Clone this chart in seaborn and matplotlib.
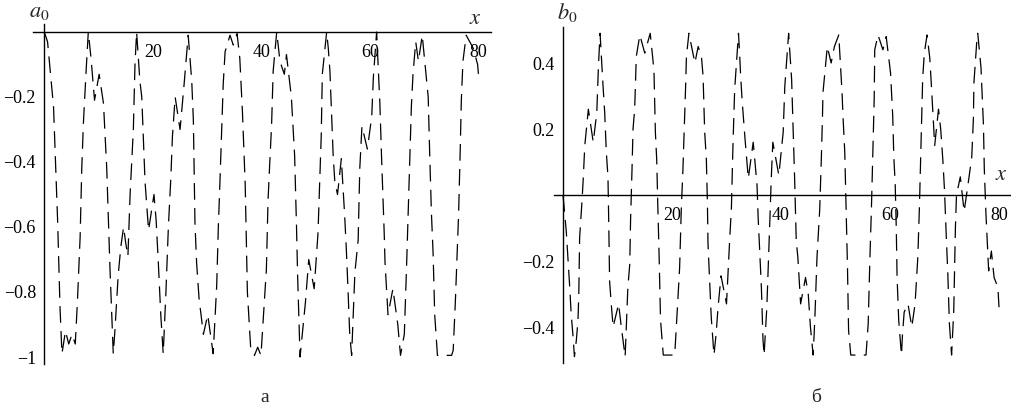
import numpy as np
import pandas as pd
import matplotlib
matplotlib.use("Agg")
import matplotlib.pyplot as plt
import seaborn as sns

# ---------------- data ----------------
a0_x = [0.0, 0.6, 1.7, 2.45, 2.9, 3.25, 3.9, 4.5, 5.1, 5.7, 6.1, 6.6, 6.9, 7.2, 7.7, 8.1,
        8.6, 9.25, 10.1, 10.9, 11.5, 12.1, 12.7, 13.0, 13.6, 14.1, 14.6, 15.0, 15.4, 15.8,
        16.4, 16.7, 17.0, 17.6, 17.95, 18.25, 18.55, 19.2, 20.2, 20.6, 21.0, 21.45, 21.9,
        22.4, 22.85, 23.3, 23.6, 24.1, 25.0, 25.7, 26.2, 26.5, 27.15, 27.45, 27.75, 28.05,
        28.5, 29.3, 30.1, 30.6, 31.1, 31.75, 32.05, 32.35, 32.65, 32.95, 33.3, 34.2, 34.8,
        35.5, 36.0, 36.5, 36.75, 37.0, 37.4, 38.0, 38.7, 39.3, 39.9, 40.3, 40.9, 41.2, 41.5,
        41.85, 42.15, 42.8, 43.4, 44.2, 44.6, 45.5, 46.1, 46.45, 46.65, 47.1, 47.7, 48.1,
        48.7, 49.7, 50.4, 50.7, 51.0, 51.2, 52.0, 52.3, 52.6, 52.9, 53.2, 53.5, 54.0, 54.7,
        55.3, 55.6, 55.9, 56.25, 56.6, 57.2, 57.8, 58.1, 58.5, 59.5, 60.3, 60.6, 61.2, 61.8,
        62.1, 62.6, 62.75, 63.3, 64.2, 65.1, 65.6, 66.3, 66.7, 67.0, 67.3, 67.6, 67.9, 68.4,
        68.9, 69.6, 70.7, 71.0, 71.3, 71.6, 71.9, 72.4, 75.0, 75.3, 75.7, 76.3, 76.6, 76.8,
        77.1, 77.7, 79.0, 79.8, 80.0]
a0_y = [0.0, -0.03, -0.23, -0.58, -0.85, -0.99, -0.92, -0.96, -0.93, -0.96, -0.83, -0.63,
        -0.42, -0.28, -0.12, 0.0, -0.08, -0.21, -0.13, -0.22, -0.42, -0.73, -0.99, -0.92,
        -0.75, -0.66, -0.60, -0.65, -0.69, -0.50, -0.30, -0.10, 0.0, -0.15, -0.20, -0.33,
        -0.46, -0.61, -0.50, -0.58, -0.71, -0.87, -0.99, -0.80, -0.60, -0.45, -0.32, -0.20,
        -0.30, -0.17, -0.07, -0.01, -0.15, -0.27, -0.59, -0.71, -0.82, -0.93, -0.87, -0.93,
        -0.99, -0.78, -0.60, -0.46, -0.31, -0.16, -0.06, -0.01, -0.04, -0.005, -0.08, -0.25,
        -0.36, -0.47, -0.80, -0.97, -0.995, -0.97, -0.995, -0.89, -0.73, -0.52, -0.41, -0.29,
        -0.12, 0.0, -0.09, -0.13, -0.07, -0.20, -0.38, -0.60, -0.75, -1.0, -0.90, -0.83,
        -0.70, -0.79, -0.62, -0.47, -0.32, -0.13, 0.0, -0.05, -0.12, -0.25, -0.38, -0.46,
        -0.50, -0.39, -0.56, -0.66, -0.78, -0.93, -0.995, -0.74, -0.64, -0.42, -0.29, -0.36,
        -0.26, -0.14, 0.0, -0.22, -0.38, -0.62, -0.71, -0.87, -0.79, -0.90, -0.995, -0.93,
        -0.73, -0.56, -0.39, -0.23, -0.13, -0.03, -0.09, -0.01, -0.20, -0.39, -0.56, -0.68,
        -0.87, -0.995, -0.995, -0.98, -0.83, -0.56, -0.36, -0.21, -0.09, -0.01, -0.05,
        -0.10, -0.14]

b0_x = [0.0, 0.6, 0.9, 1.2, 1.5, 1.8, 2.1, 2.45, 2.75, 2.9, 3.05, 3.5, 3.7, 4.0, 4.65, 5.55,
        6.2, 6.5, 6.8, 7.35, 7.65, 7.95, 8.25, 8.4, 8.55, 8.85, 9.2, 10.2, 10.7, 11.4, 11.9,
        12.25, 12.4, 12.65, 12.85, 13.15, 13.45, 14.1, 15.0, 16.0, 16.5, 16.7, 16.95, 17.2,
        17.4, 17.6, 17.9, 18.4, 20.5, 20.8, 21.1, 21.4, 21.7, 22.0, 22.2, 22.5, 22.65, 23.1,
        24.2, 24.8, 25.4, 25.7, 26.0, 26.3, 26.5, 26.6, 26.9, 27.2, 27.7, 28.1, 28.45, 29.0,
        30.0, 30.3, 30.6, 30.9, 31.2, 31.5, 32.2, 32.4, 32.6, 32.85, 33.4, 34.0, 34.9, 35.6,
        35.8, 36.4, 36.7, 36.9, 37.4, 37.7, 38.0, 38.2, 38.5, 39.6, 40.4, 40.7, 41.4, 41.95,
        42.25, 42.5, 42.8, 43.1, 43.6, 44.5, 45.0, 45.4, 45.9, 46.2, 46.6, 47.1, 47.4, 47.6,
        47.7, 48.5, 49.2, 49.8, 50.6, 51.2, 51.4, 51.7, 52.0, 52.2, 52.4, 52.8, 55.6, 56.0,
        56.3, 56.6, 56.8, 57.1, 57.2, 57.8, 58.7, 59.3, 60.1, 60.5, 60.7, 60.95, 61.15, 61.3,
        61.6, 62.1, 62.3, 62.6, 63.3, 64.0, 64.6, 65.1, 65.4, 65.7, 66.0, 66.3, 66.8, 67.3,
        67.6, 68.2, 68.9, 69.3, 69.7, 70.0, 70.3, 70.6, 70.9, 71.3, 71.7, 72.0, 72.2, 72.9,
        73.6, 74.3, 75.0, 75.3, 75.4, 75.9, 76.1, 76.7, 76.9, 77.15, 77.3, 77.6, 77.9, 78.1,
        78.6, 79.1, 79.8, 80.0]
b0_y = [0.0, -0.11, -0.19, -0.27, -0.36, -0.42, -0.49, -0.44, -0.38, -0.30, -0.13, -0.015,
        0.045, 0.15, 0.26, 0.16, 0.25, 0.39, 0.49, 0.33, 0.25, 0.13, 0.055, -0.09, -0.26,
        -0.33, -0.40, -0.33, -0.40, -0.49, -0.28, -0.21, -0.075, 0.07, 0.20, 0.26, 0.42,
        0.485, 0.43, 0.49, 0.41, 0.37, 0.19, 0.105, -0.035, -0.16, -0.38, -0.485, -0.485,
        -0.40, -0.31, -0.22, -0.045, 0.075, 0.175, 0.33, 0.42, 0.49, 0.40, 0.45, 0.42, 0.36,
        0.19, 0.11, -0.025, -0.145, -0.26, -0.37, -0.485, -0.42, -0.34, -0.245, -0.33,
        -0.23, -0.13, -0.04, 0.16, 0.32, 0.49, 0.43, 0.36, 0.29, 0.17, 0.05, 0.16, 0.03,
        -0.065, -0.28, -0.44, -0.485, -0.34, -0.20, -0.055, 0.045, 0.16, 0.06, 0.19, 0.33,
        0.49, 0.35, 0.19, 0.05, -0.14, -0.19, -0.33, -0.25, -0.30, -0.40, -0.485, -0.38,
        -0.19, -0.045, 0.11, 0.23, 0.31, 0.45, 0.40, 0.45, 0.485, 0.31, 0.23, 0.13, -0.075,
        -0.22, -0.41, -0.485, -0.485, -0.39, -0.20, -0.035, 0.09, 0.29, 0.44, 0.485, 0.44,
        0.48, 0.37, 0.24, 0.115, 0.035, -0.10, -0.25, -0.38, -0.485, -0.42, -0.355, -0.33,
        -0.40, -0.33, -0.19, -0.035, 0.16, 0.355, 0.43, 0.485, 0.415, 0.33, 0.15, 0.26,
        0.20, 0.105, 0.015, -0.115, -0.235, -0.39, -0.485, -0.35, -0.10, 0.0, 0.055, -0.05,
        0.03, 0.115, 0.23, 0.34, 0.46, 0.49, 0.385, 0.31, 0.21, 0.08, -0.055, -0.16, -0.23,
        -0.17, -0.25, -0.28, -0.34]

x_ticks = [20, 40, 60, 80]
x_ticklabels = ["20", "40", "60", "80"]
a_yticks = [-0.2, -0.4, -0.6, -0.8, -1.0]
a_yticklabels = ["\u22120.2", "\u22120.4", "\u22120.6", "\u22120.8", "\u22121"]
b_yticks = [-0.4, -0.2, 0.2, 0.4]
b_yticklabels = ["\u22120.4", "\u22120.2", "0.2", "0.4"]
captions = ["а", "б"]
ylabels = [r"$a_0$", r"$b_0$"]

# ---------------- style ----------------
sns.set_style("white")
plt.rcParams["font.family"] = ["Liberation Serif", "DejaVu Serif"]
plt.rcParams["mathtext.fontset"] = "stix"
plt.rcParams["lines.scale_dashes"] = False

W, H = 1011, 408
fig = plt.figure(figsize=(W / 100, H / 100), dpi=100)
fig.patch.set_facecolor("white")


def px_axes(x0, xs, y0, ys, xlim, ylim):
    left = x0 + xs * xlim[0]
    right = x0 + xs * xlim[1]
    top = y0 - ys * ylim[1]
    bottom = y0 - ys * ylim[0]
    ax = fig.add_axes([left / W, 1 - bottom / H, (right - left) / W, (bottom - top) / H])
    ax.set_xlim(*xlim)
    ax.set_ylim(*ylim)
    return ax


def style(ax, yticks, yticklabels, yminor):
    ax.set_facecolor("none")
    for s in ["top", "right"]:
        ax.spines[s].set_visible(False)
    for s in ["left", "bottom"]:
        ax.spines[s].set_position(("data", 0))
        ax.spines[s].set_linewidth(1.0)
        ax.spines[s].set_color("black")
    ax.set_xticks(x_ticks)
    ax.set_xticklabels(x_ticklabels)
    ax.set_xticks([v for v in range(5, 81, 5) if v not in x_ticks], minor=True)
    ax.set_yticks(yticks)
    ax.set_yticklabels(yticklabels)
    ax.set_yticks(yminor, minor=True)
    ax.tick_params(which="both", direction="in", colors="black", labelsize=13)
    ax.tick_params(which="major", length=5, width=0.8)
    ax.tick_params(which="minor", length=3, width=0.6)
    ax.tick_params(axis="x", pad=8.5)
    ax.tick_params(axis="y", pad=6)
    ax.set_xlabel("")
    ax.set_ylabel("")
    ax.grid(False)


def draw(ax, xs, ys):
    df = pd.DataFrame({"x": xs, "y": ys})
    sns.lineplot(data=df, x="x", y="y", ax=ax, color="black", linewidth=0.9,
                 sort=False, estimator=None)
    for ln in ax.lines:
        ln.set_linestyle((0, (12, 6)))


# left panel
axA = px_axes(44.3, 5.43, 32, 325, (-2.0, 82.2), (-1.02, 0.025))
draw(axA, a0_x, a0_y)
a_minor = [v / 100 for v in range(-100, 0, 5) if round(v / 100, 2) not in a_yticks]
style(axA, a_yticks, a_yticklabels, a_minor)

# right panel
axB = px_axes(563, 5.45, 195, 330, (-1.6, 82.4), (-0.51, 0.51))
draw(axB, b0_x, b0_y)
b_minor = [v / 100 for v in range(-50, 51, 5) if v != 0 and round(v / 100, 2) not in b_yticks]
style(axB, b_yticks, b_yticklabels, b_minor)

# axis labels and captions
fig.text(39 / W, 1 - 12 / H, ylabels[0], fontsize=16, ha="center", va="center")
fig.text(475 / W, 1 - 19 / H, r"$x$", fontsize=16, ha="center", va="center")
fig.text(567 / W, 1 - 13 / H, ylabels[1], fontsize=16, ha="center", va="center")
fig.text(1001 / W, 1 - 176 / H, r"$x$", fontsize=16, ha="center", va="center")
fig.text(265 / W, 1 - 398 / H, captions[0], fontsize=14, ha="center", va="center")
fig.text(816 / W, 1 - 398 / H, captions[1], fontsize=14, ha="center", va="center")

fig.savefig("out.png", dpi=100, facecolor="white")
